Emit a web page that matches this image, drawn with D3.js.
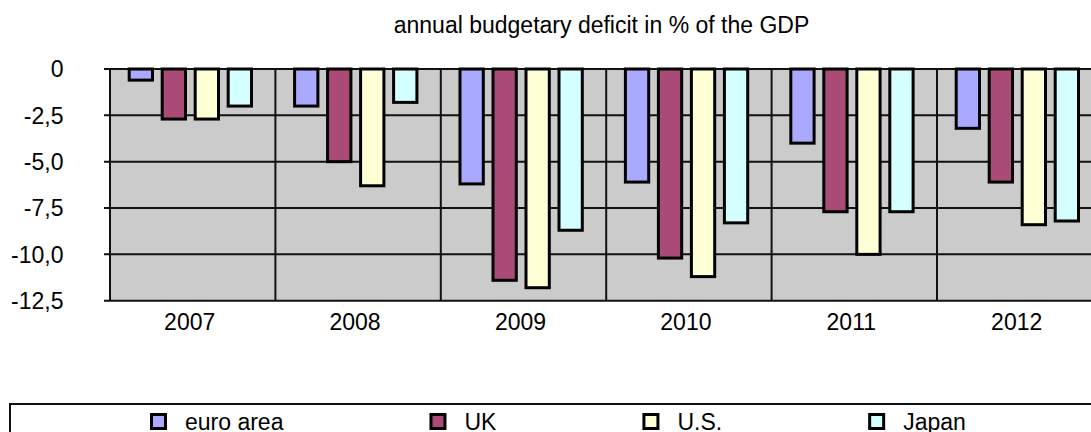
<!DOCTYPE html>
<html>
<head>
<meta charset="utf-8">
<script src="https://d3js.org/d3.v7.min.js"></script>
<style>
  html, body { margin: 0; padding: 0; background: #fff; overflow: hidden; }
  svg { display: block; font-family: "Liberation Sans", Arial, Helvetica, sans-serif; }
</style>
</head>
<body>
<svg id="chart" width="1091" height="432"></svg>
<script>
const years = ["2007", "2008", "2009", "2010", "2011", "2012"];
const seriesNames = ["euro area", "UK", "U.S.", "Japan"];
const euroArea = [-0.6, -2.0, -6.2, -6.1, -4.0, -3.2];
const uk       = [-2.7, -5.0, -11.4, -10.2, -7.7, -6.1];
const us       = [-2.7, -6.3, -11.8, -11.2, -10.0, -8.4];
const japan    = [-2.0, -1.8, -8.7, -8.3, -7.7, -8.2];
const tickValues = [0, -2.5, -5, -7.5, -10, -12.5];
const tickLabels = ["0", "-2,5", "-5,0", "-7,5", "-10,0", "-12,5"];
const colors = ["#a9a9ff", "#a94a77", "#ffffd6", "#d4ffff"];
const title = "annual budgetary deficit in % of the GDP";

const seriesValues = [euroArea, uk, us, japan];

const svg = d3.select("#chart");
const W = 1091, H = 432;

const plotLeft = 110, plotTop = 69, plotBottom = 300.7;
const catW = 165.4;
const plotRight = plotLeft + catW * years.length;

const x0 = d3.scaleBand().domain(years).range([plotLeft, plotRight]).padding(0);
const x1 = d3.scaleBand().domain(seriesNames).range([19.2, 141.5]).paddingInner(0.294).paddingOuter(0);
const y = d3.scaleLinear().domain([0, -12.5]).range([plotTop, plotBottom]);

// title
svg.append("text")
  .attr("x", 601.5).attr("y", 33)
  .attr("text-anchor", "middle")
  .style("font-size", "23px")
  .attr("fill", "#000")
  .text(title);

// plot background
svg.append("rect")
  .attr("x", plotLeft).attr("y", plotTop)
  .attr("width", plotRight - plotLeft).attr("height", plotBottom - plotTop)
  .attr("fill", "#cbcbcb");

// horizontal gridlines
svg.append("g").selectAll("line").data(tickValues).join("line")
  .attr("x1", plotLeft - 6).attr("x2", plotRight)
  .attr("y1", d => y(d)).attr("y2", d => y(d))
  .attr("stroke", "#111").attr("stroke-width", 2);

// vertical category separators
svg.append("g").selectAll("line").data(years.concat(["end"])).join("line")
  .attr("x1", (d, i) => plotLeft + i * x0.step()).attr("x2", (d, i) => plotLeft + i * x0.step())
  .attr("y1", plotTop).attr("y2", plotBottom)
  .attr("stroke", "#111").attr("stroke-width", 2);

// bars
const data = [];
years.forEach((yr, i) => {
  seriesNames.forEach((s, j) => {
    data.push({ year: yr, series: s, value: seriesValues[j][i], color: colors[j] });
  });
});
svg.append("g").selectAll("rect").data(data).join("rect")
  .attr("x", d => x0(d.year) + x1(d.series))
  .attr("y", d => y(0))
  .attr("width", x1.bandwidth())
  .attr("height", d => y(d.value) - y(0))
  .attr("fill", d => d.color)
  .attr("stroke", "#000")
  .attr("stroke-width", 3);

// y axis line
svg.append("line")
  .attr("x1", plotLeft).attr("x2", plotLeft)
  .attr("y1", plotTop).attr("y2", plotBottom)
  .attr("stroke", "#111").attr("stroke-width", 2);

// y tick labels
svg.append("g").selectAll("text").data(tickValues).join("text")
  .attr("x", 63.5).attr("y", d => y(d) + 8.3)
  .attr("text-anchor", "end")
  .style("font-size", "23px")
  .text((d, i) => tickLabels[i]);

// x labels
svg.append("g").selectAll("text").data(years).join("text")
  .attr("x", d => x0(d) + x0.bandwidth() / 2 - 3)
  .attr("y", 330)
  .attr("text-anchor", "middle")
  .style("font-size", "23px")
  .text(d => d);

// legend
svg.append("rect")
  .attr("x", 10).attr("y", 404)
  .attr("width", 1100).attr("height", 60)
  .attr("fill", "#fff").attr("stroke", "#111").attr("stroke-width", 2);

const lg = svg.append("g");
let lx = 150;
seriesNames.forEach((s, j) => {
  lg.append("rect")
    .attr("x", lx + 1.5).attr("y", 414.5)
    .attr("width", 14).attr("height", 14)
    .attr("fill", colors[j]).attr("stroke", "#000").attr("stroke-width", 3);
  const t = lg.append("text")
    .attr("x", lx + 35).attr("y", 430)
    .style("font-size", "23px")
    .text(s);
  const tw = t.node().getComputedTextLength();
  lx = lx + 35 + tw + 146;
});
</script>
</body>
</html>
